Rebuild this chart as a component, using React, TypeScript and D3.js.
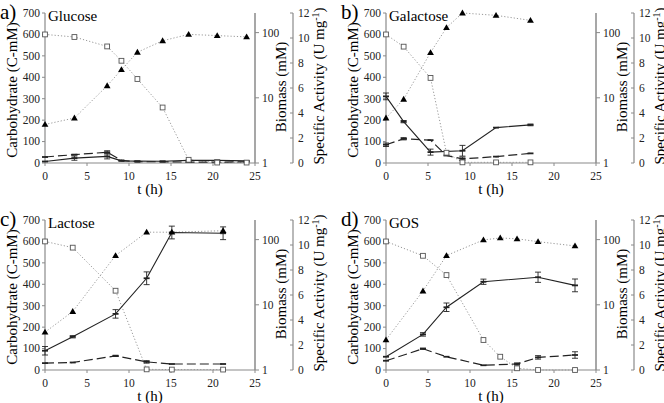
import React from 'react';
import * as d3 from 'd3';

// axis ticks
const xTicks = [0, 5, 10, 15, 20, 25];
const carbTicks = [0, 100, 200, 300, 400, 500, 600, 700];
const bioTicks = [1, 10, 100];
const saTicks = [0, 2, 4, 6, 8, 10, 12];

// a) Glucose
const gluT = [0, 3.5, 7.4, 9.1, 11, 14, 17.1, 20.5, 24];
const gluSub = [600, 588, 544, 477, 392, 259, 15, 2, 2];
const gluBio = [3.9, 4.9, 15.3, 27, 50, 75, 94, 90, 86];
const gluSolid = [0.12, 0.39, 0.53, 0.17, 0.15, 0.14, 0.21, 0.21, 0.17];
const gluSolidErr = [0, 0.17, 0.2, 0, 0, 0, 0, 0, 0];
const gluDash = [0.48, 0.67, 0.86, 0.21, 0.1, 0.1, 0.07, 0.07, 0.1];
const gluDashErr = [0, 0, 0.12, 0, 0, 0, 0, 0, 0];

// b) Galactose
const galT = [0, 2.1, 5.3, 7.2, 9.1, 13.1, 17.2];
const galSub = [600, 543, 397, 48, 3, 3, 3];
const galBio = [4.9, 9.5, 49.5, 119, 200, 184, 154];
const galSolidT = [0, 2.1, 5.3, 9.1, 13.1, 17.2];
const galSolid = [5.33, 3.31, 0.87, 0.98, 2.83, 3.05];
const galSolidErr = [0.27, 0.09, 0.24, 0.43, 0, 0.07];
const galDash = [1.46, 1.94, 1.83, 0.6, 0.33, 0.51, 0.77];
const galDashErr = [0.14, 0.09, 0, 0, 0.14, 0, 0];

// c) Lactose
const lacT = [0, 3.3, 8.4, 12.1, 15.1, 21.2];
const lacSub = [600, 571, 370, 3, 2, 2];
const lacBio = [3.8, 7.9, 57, 130, 130, 137];
const lacSolid = [1.54, 2.66, 4.49, 7.34, 11.0, 10.94];
const lacSolidErr = [0.34, 0.09, 0.34, 0.51, 0.51, 0.51];
const lacDash = [0.55, 0.6, 1.13, 0.65, 0.48, 0.48];
const lacDashErr = [0, 0, 0.05, 0.1, 0, 0];

// d) GOS
const gosT = [0, 4.4, 7.2, 11.6, 13.6, 15.6, 18.1, 22.5];
const gosSub = [600, 533, 443, 140, 62, 8, 0, 0];
const gosBio = [2.9, 16.3, 57, 99, 106, 103, 93, 80];
const gosSolidT = [0, 4.4, 7.2, 11.6, 18.1, 22.5];
const gosSolid = [1.06, 2.85, 5.02, 7.06, 7.42, 6.77];
const gosSolidErr = [0, 0.14, 0.34, 0.21, 0.41, 0.51];
const gosDashT = [0, 4.4, 7.2, 11.6, 15.6, 18.1, 22.5];
const gosDash = [0.74, 1.7, 1.06, 0.38, 0.48, 1.01, 1.2];
const gosDashErr = [0, 0.05, 0, 0, 0.09, 0.14, 0.26];

type Series = { t: number[]; v: number[]; e?: number[] };
type PanelData = {
  label: string;
  name: string;
  ox: number;
  oy: number;
  sub: Series;
  bio: Series;
  solid: Series;
  dash: Series;
};

const panels: PanelData[] = [
  {
    label: 'a)', name: 'Glucose', ox: 45, oy: 13,
    sub: { t: gluT, v: gluSub }, bio: { t: gluT, v: gluBio },
    solid: { t: gluT, v: gluSolid, e: gluSolidErr }, dash: { t: gluT, v: gluDash, e: gluDashErr },
  },
  {
    label: 'b)', name: 'Galactose', ox: 386, oy: 13,
    sub: { t: galT, v: galSub }, bio: { t: galT, v: galBio },
    solid: { t: galSolidT, v: galSolid, e: galSolidErr }, dash: { t: galT, v: galDash, e: galDashErr },
  },
  {
    label: 'c)', name: 'Lactose', ox: 45, oy: 220,
    sub: { t: lacT, v: lacSub }, bio: { t: lacT, v: lacBio },
    solid: { t: lacT, v: lacSolid, e: lacSolidErr }, dash: { t: lacT, v: lacDash, e: lacDashErr },
  },
  {
    label: 'd)', name: 'GOS', ox: 386, oy: 220,
    sub: { t: gosT, v: gosSub }, bio: { t: gosT, v: gosBio },
    solid: { t: gosSolidT, v: gosSolid, e: gosSolidErr }, dash: { t: gosDashT, v: gosDash, e: gosDashErr },
  },
];

const W = 210;
const H = 150;
const AXIS = '#8a8a8a';
const FONT = 'Liberation Serif';
const TICK = 11.5;
const TITLE = 15;

const Panel: React.FC<{ p: PanelData }> = ({ p }) => {
  const { ox, oy } = p;
  const x = d3.scaleLinear().domain([0, 25]).range([ox, ox + W]);
  const yC = d3.scaleLinear().domain([0, 700]).range([oy + H, oy]);
  const yB = d3.scaleLog().domain([1, 200]).range([oy + H, oy]);
  const yS = d3.scaleLinear().domain([0, 12]).range([oy + H, oy]);

  const pts = (s: Series, y: (v: number) => number) =>
    s.t.map((t, i) => [x(t), y(s.v[i])] as [number, number]);
  const line = d3.line<[number, number]>();

  const bx = ox + W;
  const sx = ox + W + 38;
  const tOff = TICK * 0.34;

  const errBars = (s: Series, key: string) =>
    s.t.map((t, i) => {
      const e = s.e ? s.e[i] : 0;
      if (!e) return null;
      const cx = x(t);
      const y1 = yS(s.v[i] + e);
      const y2 = yS(Math.max(0, s.v[i] - e));
      return (
        <g key={key + i} stroke="#222" strokeWidth={0.9}>
          <line x1={cx} x2={cx} y1={y1} y2={y2} />
          <line x1={cx - 3} x2={cx + 3} y1={y1} y2={y1} />
          <line x1={cx - 3} x2={cx + 3} y1={y2} y2={y2} />
        </g>
      );
    });

  return (
    <g fontFamily={FONT}>
      {/* panel label and name */}
      <text x={ox - 45} y={oy + 6} fontSize={21} fontFamily={FONT}>{p.label}</text>
      <text x={ox + 3} y={oy + 8} fontSize={TITLE} fontFamily={FONT}>{p.name}</text>

      {/* left axis */}
      <line x1={ox} x2={ox} y1={oy} y2={oy + H} stroke={AXIS} strokeWidth={1.2} />
      {carbTicks.map(v => (
        <g key={'c' + v}>
          <line x1={ox - 3} x2={ox} y1={yC(v)} y2={yC(v)} stroke={AXIS} />
          <text x={ox - 5} y={yC(v) + tOff} textAnchor="end" fontSize={TICK} fill="#222" fontFamily={FONT}>{v}</text>
        </g>
      ))}
      <text transform={`translate(${ox - 28},${oy + 77}) rotate(-90)`} textAnchor="middle" fontSize={TITLE} fontFamily={FONT}>
        Carbohydrate (C-mM)
      </text>

      {/* x axis */}
      <line x1={ox} x2={ox + W} y1={oy + H} y2={oy + H} stroke={AXIS} strokeWidth={1.2} />
      {xTicks.map(v => (
        <g key={'x' + v}>
          <line x1={x(v)} x2={x(v)} y1={oy + H} y2={oy + H + 3} stroke={AXIS} />
          <text x={x(v)} y={oy + H + 13 + tOff} textAnchor="middle" fontSize={TICK} fill="#222" fontFamily={FONT}>{v}</text>
        </g>
      ))}
      <text x={ox + W / 2} y={oy + H + 31} textAnchor="middle" fontSize={TITLE} fontFamily={FONT}>t (h)</text>

      {/* biomass axis */}
      <line x1={bx} x2={bx} y1={oy} y2={oy + H} stroke={AXIS} strokeWidth={1.5} />
      {bioTicks.map(v => (
        <g key={'b' + v}>
          <line x1={bx} x2={bx + 4} y1={yB(v)} y2={yB(v)} stroke={AXIS} />
          <text x={bx + 7} y={yB(v) + tOff} fontSize={TICK} fill="#222" fontFamily={FONT}>{v}</text>
        </g>
      ))}
      <text transform={`translate(${bx + 31},${oy + 74}) rotate(-90)`} textAnchor="middle" fontSize={TITLE} fontFamily={FONT}>
        Biomass (mM)
      </text>

      {/* specific activity axis */}
      <line x1={sx} x2={sx} y1={oy} y2={oy + H} stroke={AXIS} strokeWidth={1.2} />
      {saTicks.map(v => (
        <g key={'s' + v}>
          <line x1={sx - 3} x2={sx} y1={yS(v)} y2={yS(v)} stroke={AXIS} />
          <text x={sx + 5} y={yS(v) + tOff} fontSize={TICK} fill="#222" fontFamily={FONT}>{v}</text>
        </g>
      ))}
      <text transform={`translate(${sx + 31},${oy + 73}) rotate(-90)`} textAnchor="middle" fontSize={TITLE} fontFamily={FONT}>
        Specific Activity (U mg<tspan baselineShift="super" fontSize={10} fontFamily={FONT}>-1</tspan>)
      </text>

      {/* substrate: dotted line, open squares */}
      <path d={line(pts(p.sub, yC)) || ''} fill="none" stroke="#999" strokeWidth={1} strokeDasharray="1.2,2" />
      {/* biomass: dotted line, filled triangles */}
      <path d={line(pts(p.bio, yB)) || ''} fill="none" stroke="#999" strokeWidth={1} strokeDasharray="1.2,2" />

      {/* solid and dashed series */}
      <path d={line(pts(p.dash, yS)) || ''} fill="none" stroke="#222" strokeWidth={1.2} strokeDasharray="9,4" />
      <path d={line(pts(p.solid, yS)) || ''} fill="none" stroke="#222" strokeWidth={1.1} />
      {errBars(p.solid, 'se')}
      {errBars(p.dash, 'de')}
      {pts(p.solid, yS).map(([cx, cy], i) => (
        <line key={'sm' + i} x1={cx - 3} x2={cx + 3} y1={cy} y2={cy} stroke="#222" strokeWidth={1.8} />
      ))}
      {pts(p.dash, yS).map(([cx, cy], i) => (
        <line key={'dm' + i} x1={cx - 3} x2={cx + 3} y1={cy} y2={cy} stroke="#222" strokeWidth={1.8} />
      ))}

      {pts(p.sub, yC).map(([cx, cy], i) => (
        <rect key={'sq' + i} x={cx - 2.4} y={cy - 2.4} width={4.8} height={4.8} fill="#fff" stroke="#555" strokeWidth={0.9} />
      ))}
      {pts(p.bio, yB).map(([cx, cy], i) => (
        <path key={'tr' + i} d={`M${cx},${cy - 3.4}L${cx + 3.4},${cy + 2.4}L${cx - 3.4},${cy + 2.4}Z`} fill="#000" />
      ))}
    </g>
  );
};

export default function App() {
  return (
    <svg
      width={664}
      height={403}
      viewBox="0 0 664 403"
      style={{ position: 'absolute', left: 0, top: 0, background: '#fff' }}
    >
      <rect width={664} height={403} fill="#fff" />
      {panels.map(p => (
        <Panel key={p.label} p={p} />
      ))}
    </svg>
  );
}
